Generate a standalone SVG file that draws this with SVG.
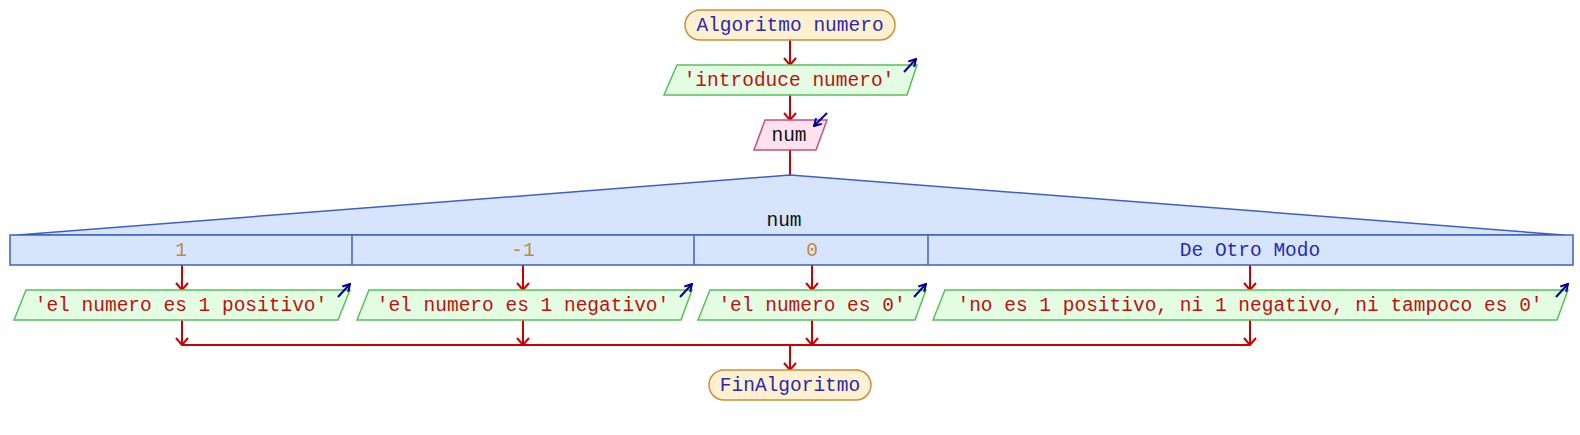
<svg xmlns="http://www.w3.org/2000/svg" width="1580" height="435" viewBox="0 0 1580 435">
<defs>
<marker id="ah" viewBox="0 0 9 14" refX="8" refY="7" markerWidth="9" markerHeight="14" markerUnits="userSpaceOnUse" orient="auto">
<path d="M1,1 L8,7 L1,13" fill="none" stroke="#cc0000" stroke-width="2"/>
</marker>
<marker id="ih" viewBox="0 0 10 10" refX="9" refY="5" markerWidth="10" markerHeight="10" markerUnits="userSpaceOnUse" orient="auto">
<path d="M2,1 L9,5 L2,9" fill="none" stroke="#000090" stroke-width="2"/>
</marker>
<style>
text{font-family:"Liberation Mono","DejaVu Sans Mono",monospace;font-size:19.5px;text-anchor:middle}
.term{fill:#fff0d0;stroke:#c8903c;stroke-width:1.5}
.out{fill:#e2fde2;stroke:#58c058;stroke-width:1.5}
.inp{fill:#ffe2ee;stroke:#c85080;stroke-width:1.5}
.sw{fill:#d6e4fc;stroke:#4060c0;stroke-width:1.5}
.kw{fill:#2a2ab0}
.str{fill:#c01010}
.var{fill:#111}
.num{fill:#c08848}
.ln{fill:none;stroke:#cc0000;stroke-width:2}
.icon{fill:none;stroke:#000090;stroke-width:2}
</style>
</defs>
<g id="connectors">
<line class="ln" x1="790" y1="40" x2="790" y2="65" marker-end="url(#ah)"/>
<line class="ln" x1="790" y1="95" x2="790" y2="120" marker-end="url(#ah)"/>
<line class="ln" x1="790" y1="150" x2="790" y2="175"/>
<line class="ln" x1="182" y1="265" x2="182" y2="290" marker-end="url(#ah)"/>
<line class="ln" x1="523" y1="265" x2="523" y2="290" marker-end="url(#ah)"/>
<line class="ln" x1="812" y1="265" x2="812" y2="290" marker-end="url(#ah)"/>
<line class="ln" x1="1250" y1="265" x2="1250" y2="290" marker-end="url(#ah)"/>
<line class="ln" x1="182" y1="320" x2="182" y2="345" marker-end="url(#ah)"/>
<line class="ln" x1="523" y1="320" x2="523" y2="345" marker-end="url(#ah)"/>
<line class="ln" x1="812" y1="320" x2="812" y2="345" marker-end="url(#ah)"/>
<line class="ln" x1="1250" y1="320" x2="1250" y2="345" marker-end="url(#ah)"/>
<line class="ln" x1="182" y1="345" x2="1250" y2="345"/>
<line class="ln" x1="790" y1="345" x2="790" y2="370" marker-end="url(#ah)"/>
</g>
<g id="start">
<rect class="term" x="685" y="10" width="210" height="30" rx="15" ry="15"/>
<text class="kw" x="790" y="31">Algoritmo numero</text>
</g>
<g id="write1">
<polygon class="out" points="664,95 677,65 917,65 907,95"/>
<text class="str" x="789" y="86">'introduce numero'</text>
<line class="icon" x1="904" y1="72" x2="916" y2="59" marker-end="url(#ih)"/>
</g>
<g id="read1">
<polygon class="inp" points="754,150 765,120 827,120 816,150"/>
<text class="var" x="789" y="141">num</text>
<line class="icon" x1="827" y1="113" x2="814" y2="126" marker-end="url(#ih)"/>
</g>
<g id="switch">
<polygon class="sw" points="17,235 790,175 1564,235"/>
<rect class="sw" x="10" y="235" width="1563" height="30"/>
<line stroke="#4060c0" stroke-width="1.5" x1="352" y1="235" x2="352" y2="265"/>
<line stroke="#4060c0" stroke-width="1.5" x1="694" y1="235" x2="694" y2="265"/>
<line stroke="#4060c0" stroke-width="1.5" x1="928" y1="235" x2="928" y2="265"/>
<text class="var" x="784" y="226">num</text>
<text class="num" x="181" y="256">1</text>
<text class="num" x="523" y="256">-1</text>
<text class="num" x="812" y="256">0</text>
<text class="kw" x="1250" y="256">De Otro Modo</text>
</g>
<g id="case1">
<polygon class="out" points="14,320 26,290 350,290 338,320"/>
<text class="str" x="181" y="311">'el numero es 1 positivo'</text>
<line class="icon" x1="338" y1="297" x2="350" y2="284" marker-end="url(#ih)"/>
</g>
<g id="case2">
<polygon class="out" points="357,320 369,290 692,290 681,320"/>
<text class="str" x="523" y="311">'el numero es 1 negativo'</text>
<line class="icon" x1="680" y1="297" x2="692" y2="284" marker-end="url(#ih)"/>
</g>
<g id="case3">
<polygon class="out" points="698,320 710,290 926,290 915,320"/>
<text class="str" x="812" y="311">'el numero es 0'</text>
<line class="icon" x1="914" y1="297" x2="926" y2="284" marker-end="url(#ih)"/>
</g>
<g id="case4">
<polygon class="out" points="933,320 945,290 1568,290 1557,320"/>
<text class="str" x="1250" y="311">'no es 1 positivo, ni 1 negativo, ni tampoco es 0'</text>
<line class="icon" x1="1556" y1="297" x2="1568" y2="284" marker-end="url(#ih)"/>
</g>
<g id="end">
<rect class="term" x="709" y="370" width="162" height="30" rx="15" ry="15"/>
<text class="kw" x="790" y="391">FinAlgoritmo</text>
</g>
</svg>
